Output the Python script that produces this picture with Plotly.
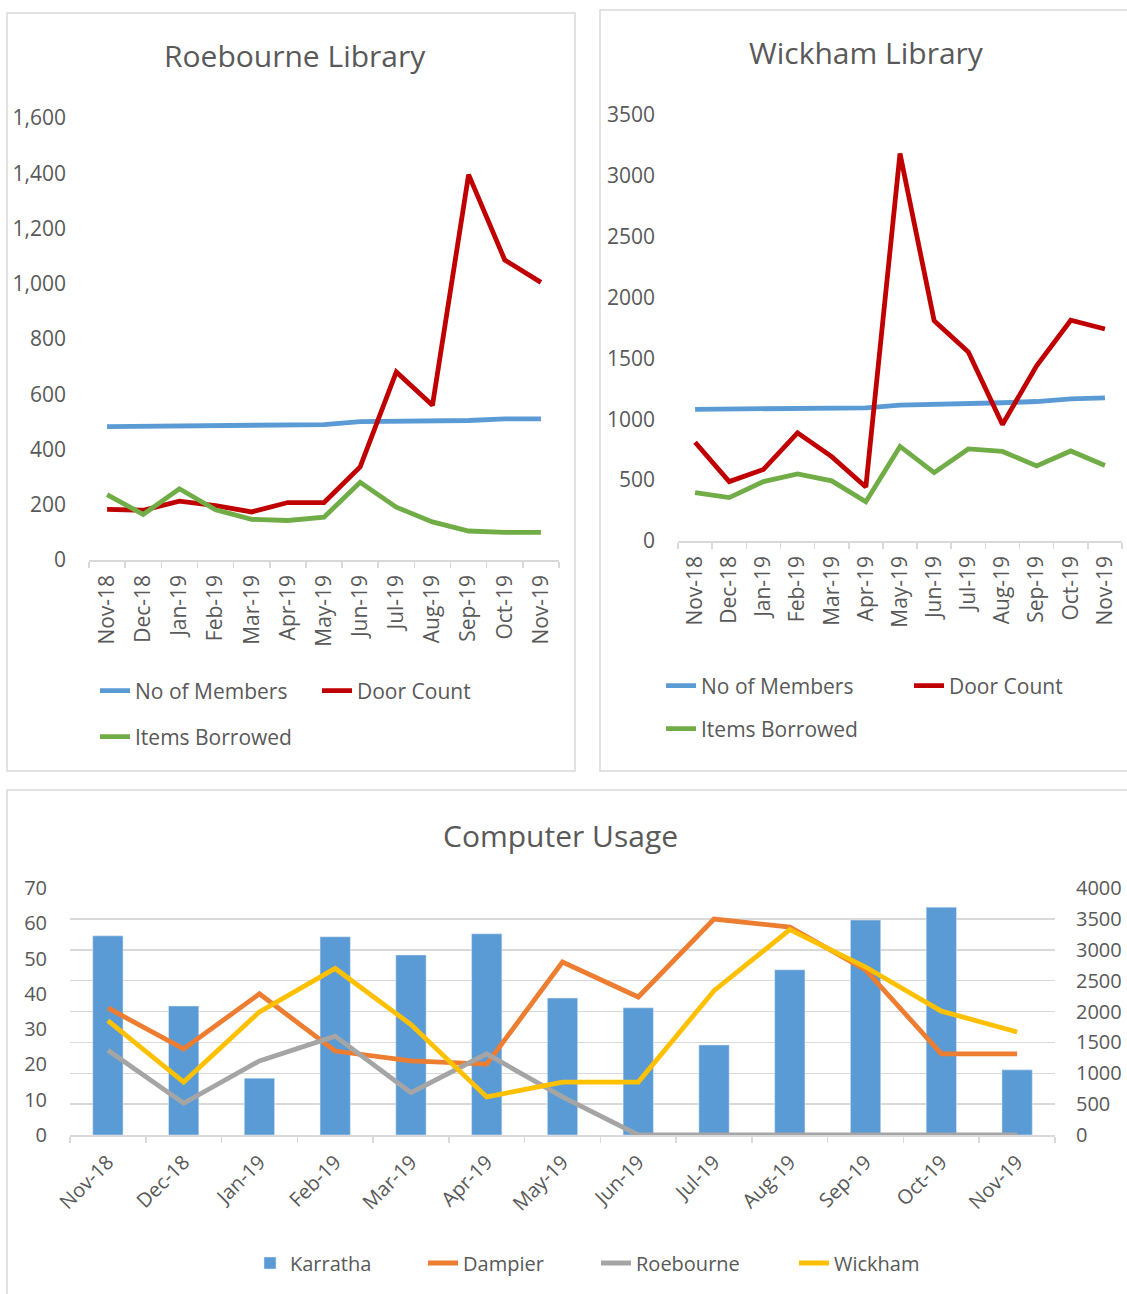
import plotly.graph_objects as go

# ---------------- data ----------------
months = ["Nov-18", "Dec-18", "Jan-19", "Feb-19", "Mar-19", "Apr-19", "May-19",
          "Jun-19", "Jul-19", "Aug-19", "Sep-19", "Oct-19", "Nov-19"]

roe_members = [483, 484, 484, 484, 486, 488, 490, 501, 501, 501, 505, 511, 511]
roe_door = [183, 180, 213, 197, 174, 208, 208, 337, 681, 560, 1395, 1086, 1005]
roe_items = [237, 165, 258, 182, 147, 143, 155, 281, 191, 138, 105, 100, 100]

wick_members = [1082, 1084, 1086, 1089, 1091, 1094, 1116, 1121, 1128, 1136, 1146, 1167, 1176]
wick_door = [811, 488, 588, 889, 693, 443, 3184, 1810, 1554, 957, 1440, 1814, 1742]
wick_items = [398, 357, 488, 551, 494, 323, 777, 562, 756, 736, 617, 740, 621]

pc_karratha = [3225, 2088, 921, 3210, 2915, 3258, 2217, 2060, 1458, 2675, 3481, 3690, 1055]
pc_dampier = [36, 24.4, 40, 23.8, 21, 20.1, 49, 39.1, 61.2, 58.9, 46.8, 23, 23]
pc_roebourne = [24, 9, 21, 28, 12, 23, 10.8, 0, 0, 0, 0, 0, 0]
pc_wickham = [32.4, 15, 34.9, 47.2, 31.3, 10.8, 15, 15, 40.9, 58.2, 47.6, 35.1, 29.2]

# ---------------- styling ----------------
W, H = 1127, 1294
FONT = "Open Sans"
TXT = "#595959"
GRID = "#D9D9D9"
BLUE, RED, GREEN = "#5B9BD5", "#C00000", "#70AD47"
ORANGE, GRAY, YELLOW = "#ED7D31", "#A5A5A5", "#FFC000"


def px(x):
    return x / W


def py(y):
    return 1 - y / H


fig = go.Figure()

# Roebourne Library
for name, vals, col, lg, lw in [("No of Members", roe_members, BLUE, "legend", 177),
                                ("Door Count", roe_door, RED, "legend", None),
                                ("Items Borrowed", roe_items, GREEN, "legend2", None)]:
    fig.add_trace(go.Scatter(x=months, y=vals, name=name, mode="lines",
                             line=dict(color=col, width=4.8),
                             xaxis="x", yaxis="y", legend=lg, legendwidth=lw))

# Wickham Library
for name, vals, col, lg, lw in [("No of Members", wick_members, BLUE, "legend3", 203),
                                ("Door Count", wick_door, RED, "legend3", None),
                                ("Items Borrowed", wick_items, GREEN, "legend4", None)]:
    fig.add_trace(go.Scatter(x=months, y=vals, name=name, mode="lines",
                             line=dict(color=col, width=4.8),
                             xaxis="x2", yaxis="y2", legend=lg, legendwidth=lw))

# Computer Usage
fig.add_trace(go.Bar(x=months, y=pc_karratha, name="Karratha", marker=dict(color=BLUE),
                     xaxis="x3", yaxis="y3", legend="legend5", legendwidth=128))
for name, vals, col, lw in [("Dampier", pc_dampier, ORANGE, 128),
                            ("Roebourne", pc_roebourne, GRAY, 153),
                            ("Wickham", pc_wickham, YELLOW, None)]:
    fig.add_trace(go.Scatter(x=months, y=vals, name=name, mode="lines",
                             line=dict(color=col, width=4.8),
                             xaxis="x3", yaxis="y4", legend="legend5",
                             legendwidth=lw))

xcommon = dict(type="category", range=[-0.5, 12.5], showline=True, linecolor=GRID,
               linewidth=1.5, ticks="outside", tickson="boundaries", ticklen=6,
               tickcolor=GRID, tickwidth=1.5, showgrid=False, zeroline=False,
               automargin=False,
               tickfont=dict(family=FONT, size=21, color=TXT), fixedrange=True)
ycommon = dict(showline=False, showgrid=False, zeroline=False, ticks="",
               automargin=False,
               ticklabelstandoff=22, tickfont=dict(family=FONT, size=21, color=TXT))

legcommon = dict(orientation="h", xanchor="left", yanchor="middle",
                 bgcolor="rgba(0,0,0,0)", font=dict(family=FONT, size=21, color=TXT),
                 itemclick=False, itemdoubleclick=False)

fig.update_layout(
    width=W, height=H, margin=dict(l=0, r=0, t=0, b=0, autoexpand=False),
    paper_bgcolor="white", plot_bgcolor="rgba(0,0,0,0)",
    bargap=0.6,
    xaxis=dict(xcommon, domain=[px(89), px(559)], anchor="y", tickangle=-90,
               ticklabelstandoff=5),
    yaxis=dict(ycommon, domain=[py(560), py(118)], anchor="x", range=[0, 1600],
               dtick=200, tickformat=","),
    xaxis2=dict(xcommon, domain=[px(678), px(1122)], anchor="y2", tickangle=-90,
                ticklabelstandoff=5),
    yaxis2=dict(ycommon, domain=[py(541), py(115)], anchor="x2", range=[0, 3500],
                dtick=500, tickformat="d"),
    xaxis3=dict(xcommon, domain=[px(70), px(1055)], anchor="y3", tickangle=-45,
                ticklabelstandoff=6,
                tickfont=dict(family=FONT, size=20, color=TXT)),
    yaxis3=dict(ycommon, domain=[py(1135), py(888)], anchor="x3", side="right",
                range=[0, 4000], dtick=500, tickformat="d", showgrid=True,
                gridcolor=GRID, gridwidth=1.5, ticklabelstandoff=20,
                tickfont=dict(family=FONT, size=20, color=TXT)),
    yaxis4=dict(ycommon, overlaying="y3", anchor="x3", side="left", range=[0, 70],
                dtick=10, ticklabelstandoff=22,
                tickfont=dict(family=FONT, size=20, color=TXT)),
    legend=dict(legcommon, x=px(95), y=py(691)),
    legend2=dict(legcommon, x=px(95), y=py(737)),
    legend3=dict(legcommon, x=px(661), y=py(686)),
    legend4=dict(legcommon, x=px(661), y=py(729)),
    legend5=dict(legcommon, x=px(250), y=py(1263),
                 font=dict(family=FONT, size=20, color=TXT)),
    shapes=[
        dict(type="rect", xref="paper", yref="paper", x0=px(7), x1=px(575),
             y0=py(771), y1=py(13), line=dict(color=GRID, width=1.5), layer="below"),
        dict(type="rect", xref="paper", yref="paper", x0=px(600), x1=px(1135),
             y0=py(771), y1=py(10), line=dict(color=GRID, width=1.5), layer="below"),
        dict(type="rect", xref="paper", yref="paper", x0=px(7), x1=px(1135),
             y0=py(1305), y1=py(790), line=dict(color=GRID, width=1.5), layer="below"),
    ],
    annotations=[
        dict(text="Roebourne Library", x=px(295), y=py(55), xref="paper", yref="paper",
             showarrow=False, xanchor="center", yanchor="middle",
             font=dict(family=FONT, size=30, color=TXT)),
        dict(text="Wickham Library", x=px(866), y=py(52), xref="paper", yref="paper",
             showarrow=False, xanchor="center", yanchor="middle",
             font=dict(family=FONT, size=30, color=TXT)),
        dict(text="Computer Usage", x=px(560), y=py(836), xref="paper", yref="paper",
             showarrow=False, xanchor="center", yanchor="middle",
             font=dict(family=FONT, size=30, color=TXT)),
    ],
)

fig.write_html(
    "out.html",
    config={"displayModeBar": False, "staticPlot": True},
    post_script="document.body.style.margin='0';document.body.style.overflow='hidden';",
)
